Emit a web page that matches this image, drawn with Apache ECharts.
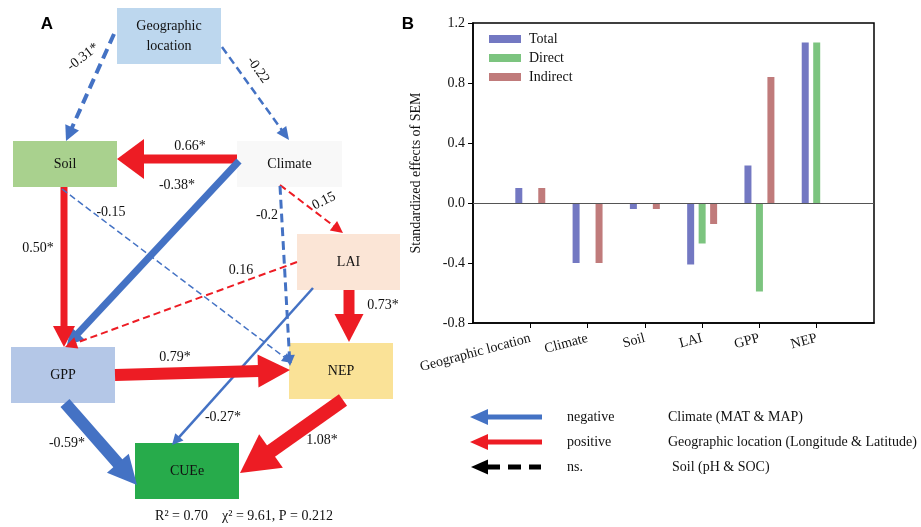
<!DOCTYPE html>
<html>
<head>
<meta charset="utf-8">
<script src="https://cdn.jsdelivr.net/npm/echarts@6/dist/echarts.min.js"></script>
<style>
  html, body { margin: 0; padding: 0; background: #fff; }
  #main { width: 921px; height: 527px; }
</style>
</head>
<body>
<div id="main"></div>
<script>
// ---- panel B: standardized effects ----
const categories = ['Geographic location', 'Climate', 'Soil', 'LAI', 'GPP', 'NEP'];
const totalEffects = [0.10, -0.40, -0.04, -0.41, 0.25, 1.07];
const directEffects = [0, 0, 0, -0.27, -0.59, 1.07];
const indirectEffects = [0.10, -0.40, -0.04, -0.14, 0.84, 0];
const yTicks = [-0.8, -0.4, 0, 0.4, 0.8, 1.2];

// ---- panel A: path model ----
const nodeNames = ['Geographic location', 'Soil', 'Climate', 'LAI', 'GPP', 'NEP', 'CUEe'];
const pathFrom = ['Geographic location', 'Geographic location', 'Climate', 'Climate', 'Climate', 'Climate',
  'Soil', 'Soil', 'LAI', 'LAI', 'LAI', 'GPP', 'GPP', 'NEP'];
const pathTo = ['Soil', 'Climate', 'Soil', 'GPP', 'LAI', 'NEP',
  'GPP', 'NEP', 'GPP', 'CUEe', 'NEP', 'NEP', 'CUEe', 'CUEe'];
const pathLabels = ['-0.31*', '-0.22', '0.66*', '-0.38*', '0.15', '-0.2',
  '0.50*', '-0.15', '0.16', '-0.27*', '0.73*', '0.79*', '-0.59*', '1.08*'];
const fitText = 'R\u00b2 = 0.70    \u03c7\u00b2 = 9.61, P = 0.212';

// layout of the diagram (pixels)
const nodeLayout = {
  'Geographic location': { box: [117, 8, 104, 56], fill: '#BDD7EE', text: 'Geographic\nlocation' },
  'Soil': { box: [13, 141, 104, 46], fill: '#A9D18E', text: 'Soil' },
  'Climate': { box: [237, 141, 105, 46], fill: '#F8F8F8', text: 'Climate' },
  'LAI': { box: [297, 234, 103, 56], fill: '#FBE5D6', text: 'LAI' },
  'GPP': { box: [11, 347, 104, 56], fill: '#B4C7E7', text: 'GPP' },
  'NEP': { box: [289, 343, 104, 56], fill: '#FAE297', text: 'NEP' },
  'CUEe': { box: [135, 443, 104, 56], fill: '#27AB4B', text: 'CUEe' }
};
// start, tip, shaft width, head [length, width], dashed, label centre, label rotation (deg)
const edgeLayout = [
  { a: [114, 34], b: [66, 141], w: 4, head: [15, 15], dash: true, lab: [83, 57], rot: 38 },
  { a: [222, 47], b: [289, 140], w: 2.5, head: [13, 12], dash: true, lab: [258, 70], rot: -55 },
  { a: [237, 159], b: [117, 159], w: 9, head: [27, 40], dash: false, lab: [190, 146], rot: 0 },
  { a: [239, 161], b: [67, 345], w: 7, head: [16, 19], dash: false, lab: [177, 185], rot: 0 },
  { a: [280, 185], b: [343, 233], w: 2, head: [12, 12], dash: true, lab: [324, 201], rot: 27 },
  { a: [280, 186], b: [290, 366], w: 3, head: [11, 11], dash: true, lab: [267, 215], rot: 0 },
  { a: [64, 187], b: [64, 347], w: 7, head: [21, 22], dash: false, lab: [38, 248], rot: 0 },
  { a: [62, 189], b: [292, 363], w: 1.5, head: [10, 10], dash: true, lab: [111, 212], rot: 0 },
  { a: [297, 262], b: [65, 347], w: 2, head: [12, 12], dash: true, lab: [241, 270], rot: 0 },
  { a: [313, 288], b: [172, 445], w: 2.5, head: [11, 11], dash: false, lab: [223, 417], rot: 0 },
  { a: [349, 290], b: [349, 342], w: 11, head: [28, 29], dash: false, lab: [383, 305], rot: 0 },
  { a: [115, 375], b: [290, 370], w: 12, head: [32, 33], dash: false, lab: [175, 357], rot: 0 },
  { a: [65, 403], b: [137, 485], w: 12, head: [29, 29], dash: false, lab: [67, 443], rot: 0 },
  { a: [343, 400], b: [240, 473], w: 14, head: [38, 41], dash: false, lab: [322, 440], rot: 0 }
];

const BLUE = '#4472C4';
const RED = '#ED1C24';
const SERIF = '"Liberation Serif", "DejaVu Serif", serif';

function arrow(a, b, w, hl, hw, color, dashed) {
  const dx = b[0] - a[0], dy = b[1] - a[1];
  const len = Math.sqrt(dx * dx + dy * dy);
  const ux = dx / len, uy = dy / len;
  const bx = b[0] - ux * hl, by = b[1] - uy * hl;
  const nx = -uy * hw / 2, ny = ux * hw / 2;
  const ex = b[0] - ux * (hl - 1), ey = b[1] - uy * (hl - 1);
  return [
    {
      type: 'line',
      shape: { x1: a[0], y1: a[1], x2: ex, y2: ey },
      style: { stroke: color, lineWidth: w, lineDash: dashed ? [w * 1.6 + 4, w + 2] : null }
    },
    {
      type: 'polygon',
      shape: { points: [[b[0], b[1]], [bx + nx, by + ny], [bx - nx, by - ny]] },
      style: { fill: color }
    }
  ];
}

function label(text, x, y, opts) {
  return {
    type: 'text',
    x: x, y: y,
    rotation: ((opts && opts.rot) || 0) * Math.PI / 180,
    style: Object.assign({
      text: text, x: 0, y: 0,
      fill: '#111',
      fontSize: 14,
      fontFamily: SERIF,
      align: 'center',
      verticalAlign: 'middle'
    }, opts && opts.style)
  };
}

const graphics = [];

nodeNames.forEach(function (name) {
  const n = nodeLayout[name];
  graphics.push({
    type: 'rect',
    shape: { x: n.box[0], y: n.box[1], width: n.box[2], height: n.box[3] },
    style: { fill: n.fill }
  });
  graphics.push(label(n.text, n.box[0] + n.box[2] / 2, n.box[1] + n.box[3] / 2,
    { style: { lineHeight: 20 } }));
});

pathLabels.forEach(function (lab, i) {
  const g = edgeLayout[i];
  const color = lab.charAt(0) === '-' ? BLUE : RED;
  arrow(g.a, g.b, g.w, g.head[0], g.head[1], color, g.dash).forEach(function (el) {
    graphics.push(el);
  });
});
pathLabels.forEach(function (lab, i) {
  const g = edgeLayout[i];
  graphics.push(label(lab, g.lab[0], g.lab[1], { rot: g.rot }));
});

graphics.push(label(fitText, 244, 516));
graphics.push(label('A', 47, 24, { style: { fontFamily: '"Liberation Sans", Arial, sans-serif', fontWeight: 'bold', fontSize: 17, fill: '#000' } }));
graphics.push(label('B', 408, 24, { style: { fontFamily: '"Liberation Sans", Arial, sans-serif', fontWeight: 'bold', fontSize: 17, fill: '#000' } }));

// key at the bottom
const keyRows = [
  { y: 417, color: BLUE, dashed: false, name: 'negative', text: 'Climate (MAT & MAP)', tx: 668 },
  { y: 442, color: RED, dashed: false, name: 'positive', text: 'Geographic location (Longitude & Latitude)', tx: 668 },
  { y: 467, color: '#000', dashed: true, name: 'ns.', text: 'Soil (pH & SOC)', tx: 672 }
];
keyRows.forEach(function (r) {
  if (r.dashed) {
    arrow([541, r.y], [471, r.y], 5, 17, 15, r.color, false).slice(1).forEach(function (el) { graphics.push(el); });
    graphics.push({
      type: 'line',
      shape: { x1: 487, y1: r.y, x2: 541, y2: r.y },
      style: { stroke: r.color, lineWidth: 5, lineDash: [13, 8] }
    });
  } else {
    arrow([542, r.y], [470, r.y], 5, 18, 16, r.color, false).forEach(function (el) { graphics.push(el); });
  }
  graphics.push(label(r.name, 567, r.y, { style: { align: 'left' } }));
  graphics.push(label(r.text, r.tx, r.y, { style: { align: 'left' } }));
});

const chart = echarts.init(document.getElementById('main'));
const xData = [''].concat(categories, ['']);
function padded(arr) { return [null].concat(arr, [null]); }

const barCommon = { type: 'bar', barWidth: 7, barGap: '64%' };

chart.setOption({
  animation: false,
  backgroundColor: '#fff',
  textStyle: { fontFamily: SERIF },
  grid: {
    left: 473, top: 23, width: 401, height: 300,
    show: true, borderColor: '#000', borderWidth: 1.5, backgroundColor: 'transparent'
  },
  legend: {
    orient: 'vertical',
    left: 484, top: 27,
    itemWidth: 32, itemHeight: 8, itemGap: 5,
    icon: 'rect',
    textStyle: { fontFamily: SERIF, fontSize: 14, color: '#111', padding: [0, 0, 0, 3] },
    data: ['Total', 'Direct', 'Indirect']
  },
  xAxis: {
    type: 'category',
    data: xData,
    boundaryGap: false,
    axisLine: { onZero: false, lineStyle: { color: '#000', width: 1.5 } },
    axisTick: {
      length: 5,
      interval: function (i) { return i > 0 && i < xData.length - 1; },
      lineStyle: { color: '#000' }
    },
    axisLabel: {
      interval: 0, rotate: 15, margin: 15,
      fontFamily: SERIF, fontSize: 14, color: '#111'
    },
    splitLine: { show: false }
  },
  yAxis: {
    type: 'value',
    min: yTicks[0], max: yTicks[yTicks.length - 1], interval: 0.4,
    name: 'Standardized effects of SEM',
    nameLocation: 'middle',
    nameGap: 50,
    nameTextStyle: { fontFamily: SERIF, fontSize: 14, color: '#111' },
    axisLine: { show: true, lineStyle: { color: '#000', width: 1.5 } },
    axisTick: { show: true, length: 5, lineStyle: { color: '#000' } },
    axisLabel: {
      margin: 8, fontFamily: SERIF, fontSize: 14, color: '#111',
      formatter: function (v) { return (Math.abs(v) < 1e-9 ? 0 : v).toFixed(1); }
    },
    splitLine: { show: false }
  },
  series: [
    Object.assign({}, barCommon, {
      name: 'Total', data: padded(totalEffects), itemStyle: { color: '#7378C2' },
      markLine: {
        silent: true, symbol: 'none', label: { show: false },
        lineStyle: { color: '#555', width: 1, type: 'solid' },
        data: [{ yAxis: 0 }]
      }
    }),
    Object.assign({}, barCommon, { name: 'Direct', data: padded(directEffects), itemStyle: { color: '#7CC47F' } }),
    Object.assign({}, barCommon, { name: 'Indirect', data: padded(indirectEffects), itemStyle: { color: '#C07B7B' } })
  ],
  graphic: { elements: graphics }
});
</script>
</body>
</html>
